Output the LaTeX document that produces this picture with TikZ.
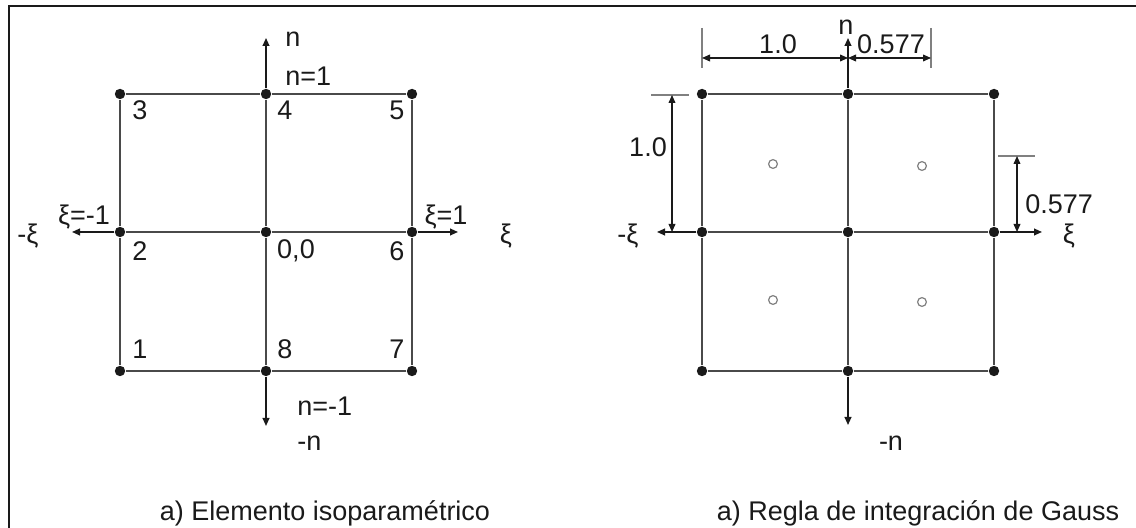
\documentclass[tikz,border=0pt]{standalone}
\usepackage{fontspec}
\setmainfont{Liberation Sans}
\usetikzlibrary{arrows.meta,positioning,calc}
\definecolor{ink}{HTML}{1A1A1A}
\definecolor{mesh}{HTML}{4A4A4A}
\definecolor{soft}{HTML}{808080}
\tikzset{
  nodo/.style={circle,fill=ink,inner sep=0pt,minimum size=5.2pt},
  gpunto/.style={circle,draw=soft,line width=0.6pt,inner sep=0pt,minimum size=4.4pt},
  malla/.style={draw=mesh,line width=0.75pt},
  eje/.style={draw=ink,line width=0.75pt,-{Triangle[length=4pt,width=3.4pt]}},
  cota/.style={draw=ink,line width=0.6pt,{Triangle[length=4pt,width=3.4pt]}-{Triangle[length=4pt,width=3.4pt]}},
  extl/.style={draw=soft,line width=0.6pt},
  etq/.style={text=ink,inner sep=0pt,font=\fontsize{13.5}{16}\selectfont}
}

\begin{document}
\begin{tikzpicture}[x=0.5pt,y=-0.5pt]
        \useasboundingbox (0,0) rectangle (1136,528);
        \draw[ink,line width=1.4pt] (9,540) -- (9,6) -- (1140,6);

        % elemento isoparametrico
        \foreach \name/\x/\y in {n1/120/371,n2/120/232,n3/120/94,n4/266/94,
            n5/412/94,n6/412/232,n7/412/371,n8/266/371,n0/266/232}
          \node[nodo] (\name) at (\x,\y) {};
        \draw[malla] (n1) -- (n2) -- (n3) -- (n4) -- (n5) -- (n6) -- (n7) -- (n8) -- (n1);
        \draw[malla] (n4) -- (n0) -- (n8);
        \draw[malla] (n2) -- (n0) -- (n6);
        \coordinate (etaup) at (266,38);
        \coordinate (etadown) at (266,426);
        \coordinate (xileft) at (72,232);
        \coordinate (xiright) at (458,232);
        \draw[eje] (n4) -- (etaup);
        \draw[eje] (n8) -- (etadown);
        \draw[eje] (n2) -- (xileft);
        \draw[eje] (n6) -- (xiright);

        \node[etq] (t3) at (140,110) {3};
        \node[etq] (t4) at (285,110) {4};
        \node[etq] (t5) at (397,110) {5};
        \node[etq] (t2) at (140,251) {2};
        \node[etq] (t0) at (296,251) {0,0};
        \node[etq] (t6) at (397,251) {6};
        \node[etq] (t1) at (140,349) {1};
        \node[etq] (t8) at (285,349) {8};
        \node[etq] (t7) at (397,349) {7};
        \node[etq,anchor=west] (etaA) at (285,39) {n};
        \node[etq,anchor=west] (etaone) at (285,76) {n=1};
        \node[etq,anchor=west] (etamone) at (297,406) {n=-1};
        \node[etq,anchor=west] (etaB) at (297,443) {-n};
        \node[etq] (ximone) at (84,217) {ξ=-1};
        \node[etq] (xione) at (446,217) {ξ=1};
        \node[etq] (xiA) at (28,236) {-ξ};
        \node[etq] (xiB) at (506,236) {ξ};
        \node[etq,anchor=base] (capA) at (325,521) {a) Elemento isoparamétrico};

        % regla de Gauss
        \foreach \name/\x/\y in {r1/702/371,r2/702/232,r3/702/94,r4/848/94,
            r5/994/94,r6/994/232,r7/994/371,r8/848/371,r0/848/232}
          \node[nodo] (\name) at (\x,\y) {};
        \draw[malla] (r1) -- (r2) -- (r3) -- (r4) -- (r5) -- (r6) -- (r7) -- (r8) -- (r1);
        \draw[malla] (r4) -- (r0) -- (r8);
        \draw[malla] (r2) -- (r0) -- (r6);
        \coordinate (gup) at (848,38);
        \coordinate (gdown) at (848,425);
        \coordinate (gleft) at (657,232);
        \coordinate (gright) at (1042,232);
        \draw[eje] (r4) -- (gup);
        \draw[eje] (r8) -- (gdown);
        \draw[eje] (r2) -- (gleft);
        \draw[eje] (r6) -- (gright);

        \node[gpunto] (g1) at (773,164) {};
        \node[gpunto] (g2) at (922,166) {};
        \node[gpunto] (g3) at (773,300) {};
        \node[gpunto] (g4) at (922,302) {};

        \coordinate (ha1) at (702,28);
        \coordinate (ha2) at (702,68);
        \coordinate (hb1) at (931,28);
        \coordinate (hb2) at (931,68);
        \coordinate (hl) at (702,58);
        \coordinate (hm) at (848,58);
        \coordinate (hr) at (931,58);
        \draw[extl] (ha1) -- (ha2);
        \draw[extl] (hb1) -- (hb2);
        \draw[cota] (hl) -- (hm);
        \draw[cota] (hm) -- (hr);

        \coordinate (va1) at (651,95);
        \coordinate (va2) at (689,95);
        \coordinate (vt) at (672,95);
        \coordinate (vb) at (672,232);
        \draw[extl] (va1) -- (va2);
        \draw[cota] (vt) -- (vb);

        \coordinate (wa1) at (998,156);
        \coordinate (wa2) at (1035,156);
        \coordinate (wt) at (1017,156);
        \coordinate (wb) at (1017,232);
        \draw[extl] (wa1) -- (wa2);
        \draw[cota] (wt) -- (wb);

        \node[etq] (dA) at (778,44) {1.0};
        \node[etq] (dB) at (891,44) {0.577};
        \node[etq] (dC) at (648,147) {1.0};
        \node[etq,anchor=west] (dD) at (1025,204) {0.577};
        \node[etq] (gn) at (846,27) {n};
        \node[etq] (gxiA) at (628,236) {-ξ};
        \node[etq] (gxiB) at (1069,236) {ξ};
        \node[etq] (gnB) at (891,443) {-n};
        \node[etq,anchor=base] (capB) at (918,521) {a) Regla de integración de Gauss};
      \end{tikzpicture}
\end{document}
